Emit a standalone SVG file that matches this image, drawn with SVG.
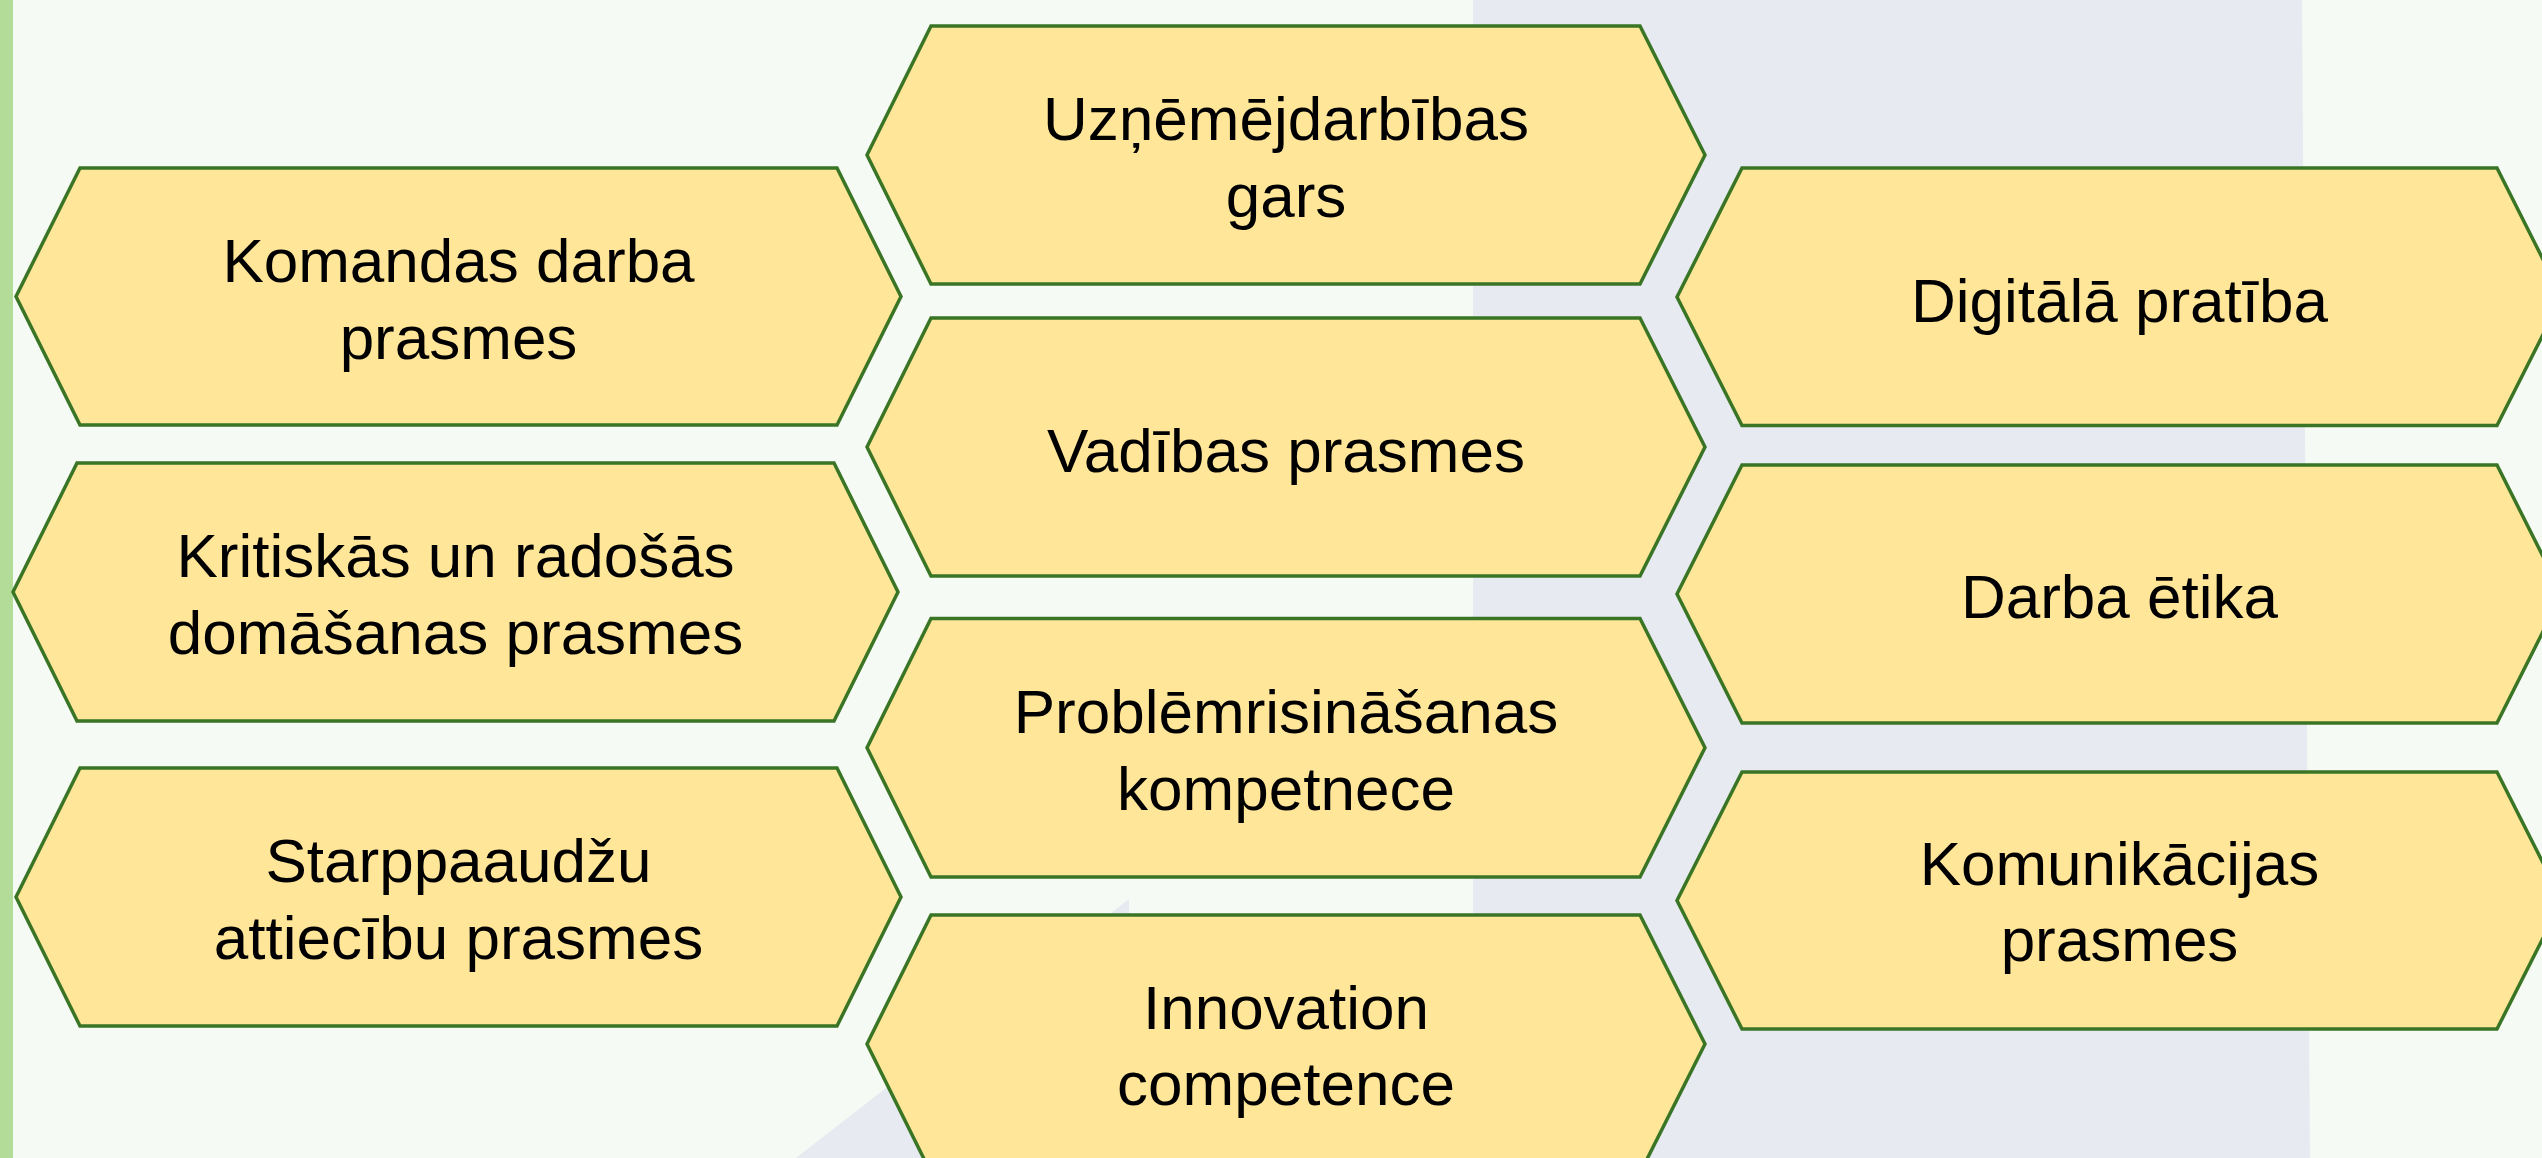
<svg xmlns="http://www.w3.org/2000/svg" width="2542" height="1158" viewBox="0 0 2542 1158">
  <defs>
    <style>
      .hex { fill: #FFE699; stroke: #3A7526; stroke-width: 3.5; stroke-linejoin: miter; }
      .lbl { font-family: "Liberation Sans", Arial, sans-serif; font-size: 62px; fill: #000000; text-anchor: middle; }
    </style>
  </defs>
  <g id="background">
    <rect x="0" y="0" width="2542" height="1158" fill="#F6FAF4"/>
    <polygon points="1473,0 2302,0 2310,1158 1473,1158" fill="#E7EAF0"/>
    <polygon points="1129,899 1129,1158 796,1158" fill="#E7EAF0"/>
    <rect x="0" y="0" width="13" height="1158" fill="#B2DC98"/>
  </g>
  <g id="connectors"></g>

  <g id="node-komandas">
    <polygon class="hex" points="80,168 837,168 901,296.5 837,425 80,425 16,296.5"/>
    <text class="lbl" x="458.5" y="281.5">Komandas darba</text>
    <text class="lbl" x="458.5" y="358.5">prasmes</text>
  </g>
  <g id="node-kritiskas">
    <polygon class="hex" points="77,463 834,463 898,592 834,721 77,721 13,592"/>
    <text class="lbl" x="455.5" y="577">Kritiskās un radošās</text>
    <text class="lbl" x="455.5" y="654">domāšanas prasmes</text>
  </g>
  <g id="node-starppaaudzu">
    <polygon class="hex" points="80,768 837,768 901,897 837,1026 80,1026 16,897"/>
    <text class="lbl" x="458.5" y="882">Starppaaudžu</text>
    <text class="lbl" x="458.5" y="959">attiecību prasmes</text>
  </g>

  <g id="node-uznemejdarbibas">
    <polygon class="hex" points="931,26 1640,26 1705,155 1640,284 931,284 867,155"/>
    <text class="lbl" x="1286" y="140">Uzņēmējdarbības</text>
    <text class="lbl" x="1286" y="217">gars</text>
  </g>
  <g id="node-vadibas">
    <polygon class="hex" points="931,318 1640,318 1705,447 1640,576 931,576 867,447"/>
    <text class="lbl" x="1286" y="471.5">Vadības prasmes</text>
  </g>
  <g id="node-problemrisinasanas">
    <polygon class="hex" points="931,618.5 1640,618.5 1705,747.7 1640,877 931,877 867,747.7"/>
    <text class="lbl" x="1286" y="733">Problēmrisināšanas</text>
    <text class="lbl" x="1286" y="810">kompetnece</text>
  </g>
  <g id="node-innovation">
    <polygon class="hex" points="931,915 1640,915 1705,1044 1640,1173 931,1173 867,1044"/>
    <text class="lbl" x="1286" y="1029">Innovation</text>
    <text class="lbl" x="1286" y="1105">competence</text>
  </g>

  <g id="node-digitala">
    <polygon class="hex" points="1742,168 2497,168 2562,297 2497,425.5 1742,425.5 1677,297"/>
    <text class="lbl" x="2119.5" y="321.5">Digitālā pratība</text>
  </g>
  <g id="node-darba-etika">
    <polygon class="hex" points="1742,465 2497,465 2562,594 2497,723 1742,723 1677,594"/>
    <text class="lbl" x="2119.5" y="618">Darba ētika</text>
  </g>
  <g id="node-komunikacijas">
    <polygon class="hex" points="1742,772 2497,772 2562,900.5 2497,1029 1742,1029 1677,900.5"/>
    <text class="lbl" x="2119.5" y="885">Komunikācijas</text>
    <text class="lbl" x="2119.5" y="961">prasmes</text>
  </g>
</svg>
